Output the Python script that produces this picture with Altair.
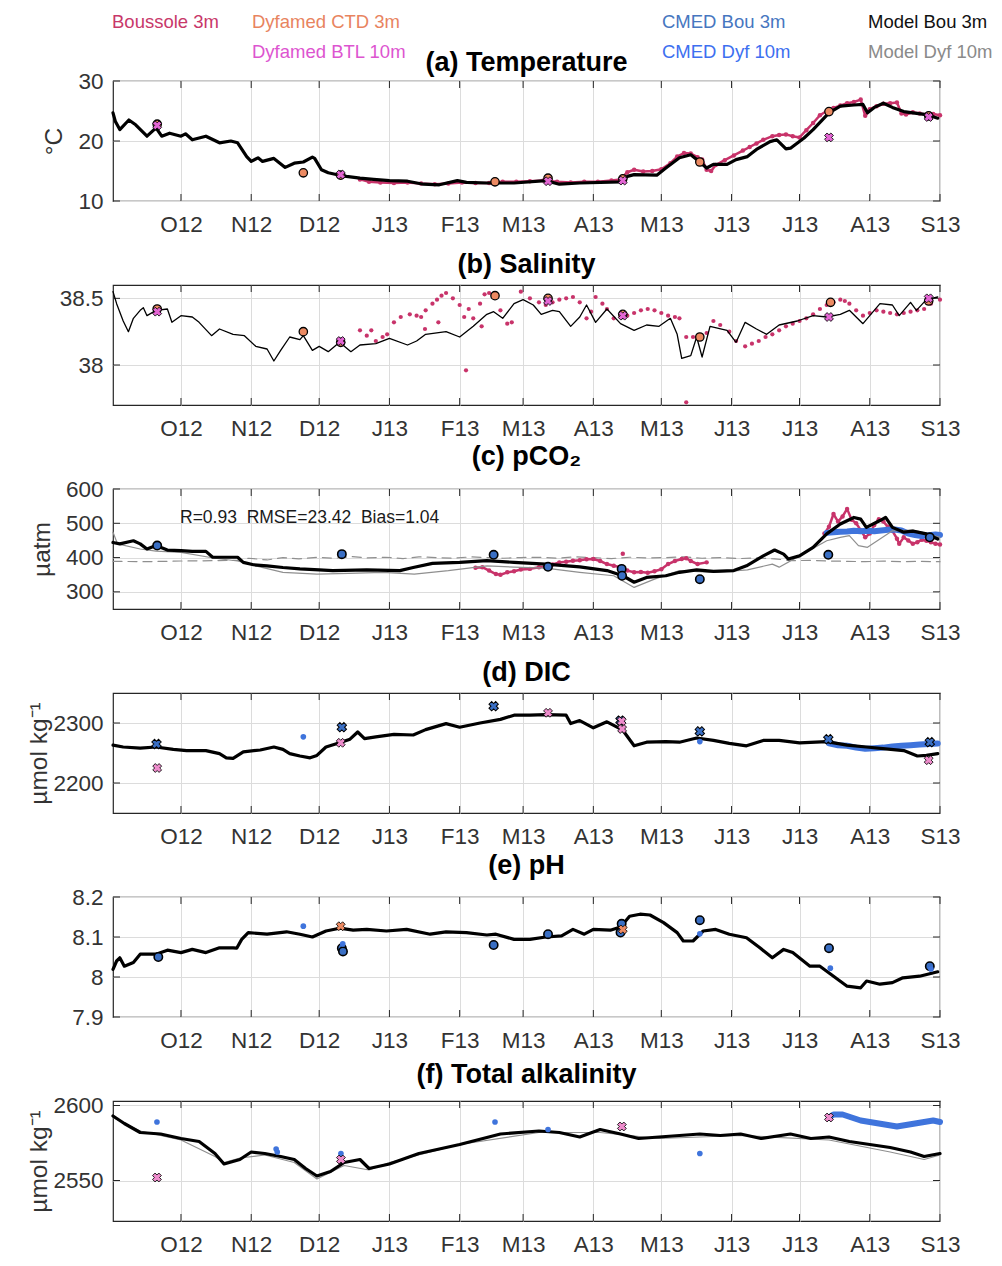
import json
import pandas as pd
import altair as alt

FONT = "Liberation Sans"
W, H = 827, 120
FRAME = "#262626"
GRID = "#dcdcdc"
LABEL = "#333333"

# ---------------- axis ticks ----------------
month_days = [30, 61, 91, 122, 153, 181, 212, 242, 273, 303, 334, 365]   # days since 2012-09-01
month_labels = ["O12", "N12", "D12", "J13", "F13", "M13", "A13", "M13", "J13", "J13", "A13", "S13"]

# ---------------- legend ----------------
legend_labels = ["Boussole 3m", "Dyfamed CTD 3m", "Dyfamed BTL 10m", "CMED Bou 3m",
                 "CMED Dyf 10m", "Model Bou 3m", "Model Dyf 10m"]
legend_colors = ["#c8386a", "#e8845f", "#dd55d0", "#4676bf", "#3d6ff0", "#111111", "#8a8a8a"]

C_BOU = "#c8336a"
C_CTD = "#ec8a62"
C_BTL = "#e466d4"
C_BTL2 = "#ee8ccc"
C_CMB = "#3a6fc4"
C_CMD = "#3f74dc"
C_MB = "#000000"
C_MD = "#8f8f8f"

# ================= (a) Temperature =================
T_model_bou = [(0,24.7),(1,23.3),(3,21.9),(7,23.5),(10,22.7),(15,20.8),(19,22.2),(21.5,20.8),(25,21.3),(30,20.8),
               (32,21.2),(35,20.2),(41,20.8),(47,19.7),(52,20.0),(55,19.7),(59,17.4),(61,16.6),(64,17.2),(66,16.6),
               (71,17.1),(76,15.6),(80,16.3),(84,16.5),(88,17.3),(89,17.1),(92,15.2),(95,14.7),(100,14.3),(103,14.1),
               (109,13.8),(115,13.6),(122,13.4),(130,13.3),(137,12.8),(144,12.7),(152,13.4),(156,13.1),(165,13.0),
               (177,13.0),(191,13.4),(197,12.8),(206,13.0),(224,13.2),(227,14.1),(230,14.4),(240,14.3),(244,15.5),
               (250,17.2),(255,17.7),(259,16.5),(262,15.5),(265,16.1),(271,16.1),(275,16.9),(280,17.4),(284,18.6),
               (290,19.9),(293,20.2),(297,18.7),(299,18.8),(305,20.5),(309,21.9),(316,24.7),(321,25.8),(327,26.0),
               (331,26.1),(333,24.7),(336,25.6),(340,26.3),(344,25.6),(349,24.9),(353,24.7),(359,24.4),(364,23.8)]
T_boussole = [(109,13.6),(113,13.2),(118,13.1),(124,13.0),(130,13.1),(136,12.9),(142,12.8),(148,12.9),(154,13.1),
              (160,13.0),(166,13.0),(172,13.2),(178,13.2),(184,13.3),(190,13.4),(196,13.2),(202,13.1),(208,13.2),
              (214,13.2),(220,13.4),(224,13.6),(227,14.8),(230,15.2),(234,14.9),(238,15.0),(242,15.3),(246,16.3),
              (249,17.4),(252,18.0),(255,17.9),(258,17.3),(260,16.9),(262,15.2),(264,15.0),(266,16.0),(270,16.8),
              (274,17.6),(278,18.4),(281,19.0),(284,19.6),(287,20.2),(291,20.8),(294,21.0),(297,21.1),(300,20.8),
              (303,20.6),(306,21.8),(309,23.0),(312,24.3),(315,25.0),(318,25.5),(321,25.9),(324,26.3),(327,26.5),
              (330,26.9),(332,24.2),(334,25.3),(337,25.8),(340,26.2),(343,26.3),(346,26.4),(348,24.6),(350,24.4),
              (353,24.8),(356,24.6),(359,24.4),(362,24.5),(365,24.3)]
T_ctd = [(19.5,22.8),(84,14.7),(100.5,14.3),(168.6,13.2),(192,13.8),(225,13.7),(259,16.5),(316,24.9),(360,24.2)]
T_btl = [(19.5,22.6),(100.5,14.4),(192,13.3),(225,13.4),(316,20.6),(360,24.0)]

# ================= (b) Salinity =================
S_model_bou = [(0,38.55),(1.6,38.46),(4.5,38.33),(6.8,38.25),(9,38.35),(12,38.41),(13.4,38.43),(15,38.37),(19,38.41),
               (24,38.42),(26,38.32),(30,38.37),(35,38.36),(38,38.32),(43.5,38.22),(47,38.27),(53,38.23),(58,38.22),
               (63,38.14),(68,38.12),(71,38.03),(74,38.11),(78,38.21),(82.5,38.19),(84,38.22),(88,38.11),(91,38.14),
               (95,38.10),(100,38.17),(105,38.10),(109,38.15),(116,38.16),(122,38.20),(130,38.15),(134,38.18),
               (138,38.23),(147,38.25),(153,38.21),(159,38.29),(165,38.38),(168,38.40),(172,38.35),(177,38.46),
               (181,38.49),(185.5,38.45),(189,38.38),(194,38.41),(197,38.40),(202,38.29),(206,38.36),(209,38.45),
               (213,38.32),(218,38.42),(224,38.31),(230,38.26),(235.5,38.30),(241,38.29),(246,38.35),(249,38.23),
               (251,38.05),(255,38.07),(257.6,38.21),(260,38.06),(263.5,38.29),(271,38.26),(275,38.17),(279,38.32),
               (284,38.27),(288.5,38.23),(294,38.30),(302,38.33),(309,38.37),(315,38.36),(321,38.38),(325,38.41),
               (331,38.31),(338.5,38.46),(344,38.45),(347,38.37),(352,38.47),(354.6,38.41),(359,38.49),(364,38.51)]
S_boussole = [(109,38.26),(112,38.22),(114,38.26),(116,38.18),(119,38.21),(121,38.23),(124,38.32),(127,38.36),
              (131,38.38),(134,38.37),(136,38.36),(138,38.41),(141,38.46),(143,38.49),(145,38.52),(147,38.54),
              (150,38.50),(153,38.45),(155,38.36),(157,38.42),(159,38.35),(162,38.46),(164,38.53),(166,38.54),
              (171,38.41),(174,38.31),(176,38.32),(180,38.55),(184,38.50),(188,38.47),(191,38.45),(194,38.47),
              (197,38.49),(200,38.50),(203,38.51),(206,38.47),(209,38.35),(211,38.40),(213,38.51),(216,38.46),
              (218,38.42),(221,38.35),(224,38.36),(227,38.37),(230,38.39),(233,38.41),(236,38.42),(239,38.41),
              (242,38.39),(245,38.37),(248,38.36),(250,38.35),(253,38.21),(256,38.21),(259,38.22),(262,38.24),
              (265,38.33),(268,38.30),(272,38.25),(275,38.18),(279,38.14),(282,38.16),(285,38.18),(288,38.21),
              (291,38.23),(294,38.26),(297,38.29),(300,38.31),(303,38.33),(306,38.35),(309,38.38),(312,38.42),
              (315,38.45),(318,38.47),(321,38.49),(323,38.48),(325,38.46),(328,38.41),(331,38.37),(334,38.39),
              (337,38.41),(340,38.40),(343,38.39),(346,38.38),(349,38.39),(352,38.40),(355,38.41),(358,38.42),
              (361,38.46),(365,38.49),(155.8,37.96),(253,37.72),(137.7,38.27),(143.6,38.32),(162.7,38.29)]
S_ctd = [(19.5,38.42),(84,38.25),(100.5,38.17),(168.6,38.52),(192,38.50),(225,38.38),(259,38.21),(316.7,38.47),(360,38.48)]
S_btl = [(19.5,38.40),(100.5,38.18),(192,38.48),(225,38.37),(316,38.36),(360,38.50)]

# ================= (c) pCO2 =================
P_model_bou = [(0,444),(3,440),(9,449),(12,440),(15,425),(19,435),(24,422),(30,420),(35,418),(41,418),(44,401),
               (50,401),(55,401),(57.5,386),(62,379),(68,376),(75,371),(82.5,367),(91,364),(97,362),(112,364),
               (126.6,362),(132.5,371),(141,383),(153,386),(165,391),(177,386),(191,381),(206,373),(218,362),
               (225,347),(230,328),(235.5,342),(244,347),(250,357),(257.6,364),(265,360),(274,362),(279.6,376),
               (287,405),(292,422),(296,410),(298,396),(303,405),(309,430),(315,469),(321,498),(327,517),(330,512),
               (332.5,488),(338.5,508),(341,517),(344,488),(349,474),(353,477),(359,469),(364,454)]
P_model_dyf = [(0,474),(2,440),(12,425),(19,419),(30,415),(45,398),(55,390),(63,376),(75,357),(90,352),(104,354),
               (119,357),(133,352),(148,362),(165,376),(177,372),(191,369),(206,357),(221,347),(230,313),(239,337),
               (250,362),(265,357),(280,364),(291,381),(294,372),(303,405),(315,449),(321,459),(325,464),(329,435),
               (333,430),(338.5,454),(344,478),(353,480),(359,471),(365,459)]
P_atm = [(0,389),(15,388),(30,390),(45,391),(55,392),(60,398),(68,393),(75,400),(82,396),(90,401),(98,398),
         (105,403),(112,399),(120,401),(128,397),(135,402),(143,400),(150,398),(158,402),(165,400),(172,398),
         (180,400),(188,401),(196,398),(204,402),(212,400),(220,397),(228,401),(236,399),(244,400),(252,402),
         (260,398),(268,400),(276,397),(284,399),(292,396),(300,391),(308,392),(316,390),(324,389),(332,388),
         (340,390),(348,388),(356,389),(365,388)]
P_boussole_spring = [(160,370),(163,372),(166,362),(169,352),(171,350),(174,357),(177,360),(180,365),(184,367),
                     (188,372),(191,373),(194,380),(197,386),(200,388),(203,391),(206,392),(209,395),(212,396),
                     (215,390),(218,381),(221,376),(224,372),(227,362),(230,357),(233,358),(236,356),(239,360),
                     (242,366),(245,381),(248,390),(251,396),(253,398),(255,390),(258,381),(262,386)]
P_boussole_summer = [(314,470),(316,490),(318,527),(320,505),(322,520),(324,542),(326,510),(328,500),(330,480),
                     (332,459),(334,470),(336,495),(338,512),(340,505),(342,490),(344,478),(346,455),(347,440),
                     (349,459),(351,450),(353,440),(355,445),(357,452),(359,449),(361,445),(363,440),(365,438)]
P_boussole_other = [(225,411)]
P_cmed_dyf_band = [(315,472),(318,474),(321,475),(324,476),(327,478),(330,477),(333,478),(336,477),(339,479),
                   (342,481),(345,482),(348,479),(351,470),(354,466),(357,463),(360,465),(363,467),(365,466)]
P_cmed_bou = [(19.5,435),(101,410),(168,408),(192,373),(224.5,367),(224.7,347),(259,337),(315.7,408),(360.5,459)]
P_stats = "R=0.93\u00a0\u00a0RMSE=23.42\u00a0\u00a0Bias=1.04"

# ================= (d) DIC =================
D_model_bou = [(0,2263),(4.5,2260),(12,2258),(19,2260),(26.6,2256),(32.5,2254),(41,2254),(47,2249),(50,2242),
               (53,2241),(57.5,2252),(65,2255),(71,2260),(75,2256),(78,2249),(82.5,2245),(87,2242),(90,2246),
               (94,2260),(100,2267),(104.6,2273),(108,2285),(111,2274),(116,2277),(124,2281),(132.5,2280),
               (138,2289),(147,2299),(153,2293),(162,2300),(171,2306),(177,2313),(184,2313),(191,2314),(200,2313),
               (202,2299),(206,2304),(212,2292),(218,2302),(221,2296),(225,2288),(230,2262),(235.5,2268),
               (244,2269),(250,2268),(257.6,2275),(265,2271),(272,2266),(279.6,2262),(287,2271),(294,2271),
               (303,2267),(315,2269),(324,2263),(332.5,2260),(341,2257),(349,2254),(355,2245),(359,2246),(364,2249)]
D_cmed_dyf_band = [(316,2266),(320,2263),(324,2262),(328,2259),(332,2257),(336,2258),(340,2259),(344,2261),
                   (348,2262),(352,2263),(356,2264),(360,2265),(364,2266)]
D_cmed_dyf = [(84,2277),(259,2269)]
D_cmed_bou = [(19.2,2265),(101,2293),(168,2328),(224,2304),(259,2286),(315.7,2273),(360.5,2268)]
D_btl = [(19.5,2225),(100.5,2267),(192,2317),(224.5,2303),(224.7,2290),(360,2238)]

# ================= (e) pH =================
H_model_bou = [(0,8.019),(1.6,8.040),(3,8.048),(5,8.027),(9,8.036),(12,8.057),(15,8.057),(19,8.057),(24,8.067),
               (30,8.061),(35,8.069),(41,8.061),(47,8.073),(53,8.073),(54.6,8.072),(56.8,8.094),(59.7,8.111),
               (68,8.107),(76.6,8.113),(82.5,8.107),(88,8.100),(94,8.115),(100,8.122),(106,8.117),(112,8.119),
               (120.7,8.115),(129.6,8.119),(140,8.107),(147,8.113),(156,8.111),(165,8.105),(169,8.107),(177,8.094),
               (184,8.094),(191,8.100),(198,8.103),(203,8.119),(208,8.107),(212,8.119),(219.5,8.117),(224,8.125),
               (228,8.152),(232.6,8.157),(237,8.155),(243,8.136),(249,8.111),(251.7,8.090),(256,8.090),
               (260.5,8.115),(266,8.119),(272,8.107),(279.6,8.098),(285.5,8.073),(291,8.048),(296,8.069),
               (300,8.061),(307.6,8.027),(312,8.027),(318,8.002),(324,7.977),(330,7.973),(332.6,7.990),
               (338.5,7.982),(344,7.986),(348.6,7.998),(356,8.002),(364,8.013)]
H_cmed_bou = [(20,8.050),(101,8.072),(101.5,8.064),(168,8.080),(192,8.107),(224.5,8.133),(224,8.111),(259,8.142),
              (316,8.072),(360.5,8.027)]
H_cmed_dyf = [(84,8.127),(101.4,8.083),(259,8.108),(316.6,8.022),(361,8.020)]
H_ctd = [(100.5,8.127),(225,8.119)]

# ================= (f) Total alkalinity =================
A_model_bou = [(0,2593),(5,2588),(12,2582),(21,2581),(30,2578),(38,2576),(45,2568),(49,2561),(56,2564),(61,2569),
               (67,2568),(74,2566),(80,2564),(85,2558),(90,2553),(96,2556),(102,2562),(109,2564),(113,2558),
               (122,2561),(135,2568),(153,2574),(171,2581),(188,2583),(197,2582),(206,2579),(215,2584),(224,2581),
               (232,2578),(241,2579),(259,2581),(268,2580),(277,2581),(286,2578),(299,2581),(308,2578),(316,2579),
               (325,2576),(334,2574),(343,2572),(352,2569),(358,2566),(365,2568)]
A_model_dyf = [(0,2592),(12,2583),(30,2577),(45,2566),(49,2562),(56,2565),(67,2567),(80,2562),(90,2551),(102,2560),
               (113,2557),(122,2562),(153,2574),(188,2582),(215,2582),(241,2578),(277,2580),(316,2577),(343,2569),
               (352,2566),(358,2564),(365,2567)]
A_cmed_dyf_band = [(316,2592),(318,2594),(322,2594),(326,2592),(330,2590),(334,2589),(338,2588),(342,2587),
                   (346,2586),(350,2587),(354,2588),(358,2589),(362,2590),(365,2589)]
A_cmed_dyf = [(19.4,2589),(72,2571),(72.5,2569),(100.6,2568),(168.6,2589),(192,2584),(259,2568)]
A_btl = [(19.4,2552),(100.6,2564),(224.6,2586),(316,2592)]


def pts(pairs):
    return pd.DataFrame(pairs, columns=["d", "v"])


def axes(ydom, yticks, yfmt, ytitle=None, tpad=10):
    label_expr = "%s[indexof(%s, datum.value)]" % (json.dumps(month_labels), json.dumps(month_days))
    xax = alt.Axis(values=month_days, labelExpr=label_expr, grid=True, gridColor=GRID, gridWidth=1,
                   ticks=False, tickSize=0, domain=False, labelPadding=12, labelFontSize=22.5,
                   labelColor=LABEL, labelFont=FONT, labelFlush=False, labelOverlap=False)
    ykw = dict(values=yticks, format=yfmt, grid=True, gridColor=GRID, gridWidth=1, ticks=False, tickSize=0,
               domain=False, labelPadding=10, labelFontSize=22.5, labelColor=LABEL, labelFont=FONT,
               labelOverlap=False)
    if ytitle:
        ykw.update(titlePadding=tpad, titleFontSize=24.5, titleFontWeight="normal", titleColor=LABEL,
                   titleFont=FONT)
    X = alt.X("d:Q", scale=alt.Scale(domain=[0, 365], nice=False, zero=False), axis=xax, title=None)
    Y = alt.Y("v:Q", scale=alt.Scale(domain=ydom, nice=False, zero=False), axis=alt.Axis(**ykw),
              title=ytitle if ytitle else None)
    return X, Y


def frame_ticks(X, Y, yticks):
    xt = pd.DataFrame({"d": month_days})
    yt = pd.DataFrame({"v": yticks})
    r = dict(color=FRAME, strokeWidth=1)
    return [
        alt.Chart(xt).mark_rule(**r).encode(x=X, y=alt.value(0), y2=alt.value(7)),
        alt.Chart(xt).mark_rule(**r).encode(x=X, y=alt.value(H), y2=alt.value(H - 7)),
        alt.Chart(yt).mark_rule(**r).encode(y=Y, x=alt.value(0), x2=alt.value(7)),
        alt.Chart(yt).mark_rule(**r).encode(y=Y, x=alt.value(W), x2=alt.value(W - 7)),
    ]


def line(pairs, X, Y, color, width, dash=None):
    kw = dict(color=color, strokeWidth=width, strokeJoin="round", strokeCap="round")
    if dash:
        kw["strokeDash"] = dash
    return alt.Chart(pts(pairs)).mark_line(**kw).encode(x=X, y=Y)


def dots(pairs, X, Y, color, size):
    return alt.Chart(pts(pairs)).mark_circle(color=color, size=size, opacity=1).encode(x=X, y=Y)


def marker(pairs, X, Y, fill, shape="circle", size=70, sw=1.3, angle=0):
    kw = dict(shape=shape, filled=True, fill=fill, stroke="black", strokeWidth=sw, size=size, opacity=1)
    if angle:
        kw["angle"] = angle
    return alt.Chart(pts(pairs)).mark_point(**kw).encode(x=X, y=Y)


def title(text, offset=6):
    return alt.TitleParams(text=text, fontSize=27, fontWeight="bold", font=FONT, color="black",
                           anchor="middle", offset=offset)


def text_at(txt, x, y, size, color, weight="normal", align="left"):
    return alt.Chart(pd.DataFrame({"t": [txt]})).mark_text(
        align=align, baseline="middle", fontSize=size, font=FONT, color=color, fontWeight=weight
    ).encode(x=alt.value(x), y=alt.value(y), text="t:N")


# ---- panel a
yt_a = [10, 20, 30]
X, Y = axes([10, 30], yt_a, "d", "°C", 11)
legend_x = [-1, 139, 139, 549, 549, 755, 755]
legend_y = [-59, -59, -29, -59, -29, -59, -29]
legend_layers = [text_at(lab, lx, ly, 18.5, col)
                 for lab, col, lx, ly in zip(legend_labels, legend_colors, legend_x, legend_y)]
panel_a = alt.layer(
    *frame_ticks(X, Y, yt_a),
    line(T_boussole, X, Y, C_BOU, 2.5),
    dots(T_boussole, X, Y, C_BOU, 20),
    line(T_model_bou, X, Y, C_MB, 3.2),
    marker(T_ctd, X, Y, C_CTD),
    marker(T_btl, X, Y, C_BTL, shape="cross", size=80, sw=0.8, angle=45),
    *legend_layers,
    text_at("(a) Temperature", W / 2, -18, 27, "black", weight="bold", align="center"),
).properties(width=W, height=H)

# ---- panel b
yt_b = [38, 38.5]
X, Y = axes([37.7, 38.6], yt_b, ".1~f")
panel_b = alt.layer(
    *frame_ticks(X, Y, yt_b),
    dots(S_boussole, X, Y, C_BOU, 18),
    line(S_model_bou, X, Y, C_MB, 1.3),
    marker(S_ctd, X, Y, C_CTD),
    marker(S_btl, X, Y, C_BTL, shape="cross", size=80, sw=0.8, angle=45),
).properties(width=W, height=H, title=title("(b) Salinity"))

# ---- panel c
yt_c = [300, 400, 500, 600]
X, Y = axes([250, 600], yt_c, "d", "µatm", 11)
panel_c = alt.layer(
    *frame_ticks(X, Y, yt_c),
    line(P_atm, X, Y, C_MD, 1.2, dash=[9, 6]),
    line(P_boussole_spring, X, Y, C_BOU, 2.5),
    line(P_boussole_summer, X, Y, C_BOU, 2.5),
    dots(P_boussole_spring, X, Y, C_BOU, 20),
    dots(P_boussole_summer, X, Y, C_BOU, 20),
    dots(P_boussole_other, X, Y, C_BOU, 20),
    line(P_cmed_dyf_band, X, Y, C_CMD, 6),
    line(P_model_dyf, X, Y, C_MD, 1.2),
    line(P_model_bou, X, Y, C_MB, 3.2),
    marker(P_cmed_bou, X, Y, C_CMB, sw=1.6),
    text_at(P_stats, 67, 29, 17.5, "#1a1a1a"),
).properties(width=W, height=H, title=title("(c) pCO₂", 7))

# ---- panel d
yt_d = [2200, 2300]
X, Y = axes([2150, 2350], yt_d, "d", "µmol kg⁻¹", 1)
panel_d = alt.layer(
    *frame_ticks(X, Y, yt_d),
    line(D_cmed_dyf_band, X, Y, C_CMD, 6),
    line(D_model_bou, X, Y, C_MB, 3.2),
    dots(D_cmed_dyf, X, Y, C_CMD, 32),
    marker(D_cmed_bou, X, Y, C_CMB, shape="cross", size=90, sw=1.0, angle=45),
    marker(D_btl, X, Y, C_BTL2, shape="cross", size=80, sw=0.8, angle=45),
).properties(width=W, height=H, title=title("(d) DIC"))

# ---- panel e
yt_e = [7.9, 8.0, 8.1, 8.2]
X, Y = axes([7.9, 8.2], yt_e, ".1~f")
panel_e = alt.layer(
    *frame_ticks(X, Y, yt_e),
    line(H_model_bou, X, Y, C_MB, 3.2),
    marker(H_cmed_bou, X, Y, C_CMB, sw=1.6),
    dots(H_cmed_dyf, X, Y, C_CMD, 32),
    marker(H_ctd, X, Y, C_CTD, shape="cross", size=80, sw=0.8, angle=45),
).properties(width=W, height=H, title=title("(e) pH"))

# ---- panel f
yt_f = [2550, 2600]
X, Y = axes([2523, 2603], yt_f, "d", "µmol kg⁻¹", 1)
panel_f = alt.layer(
    *frame_ticks(X, Y, yt_f),
    line(A_cmed_dyf_band, X, Y, C_CMD, 6),
    line(A_model_dyf, X, Y, C_MD, 1.2),
    line(A_model_bou, X, Y, C_MB, 3.2),
    dots(A_cmed_dyf, X, Y, C_CMD, 32),
    marker(A_btl, X, Y, C_BTL2, shape="cross", size=80, sw=0.8, angle=45),
).properties(width=W, height=H, title=title("(f) Total alkalinity"))

chart = alt.vconcat(
    panel_a, panel_b, panel_c, panel_d, panel_e, panel_f, spacing=84, bounds="flush"
).properties(
    padding={"left": 18, "top": 4, "right": 0, "bottom": 0}
).configure(font=FONT).configure_view(stroke=FRAME, strokeWidth=1.2)

chart.save("out.html", embed_options={"renderer": "svg", "actions": False})
